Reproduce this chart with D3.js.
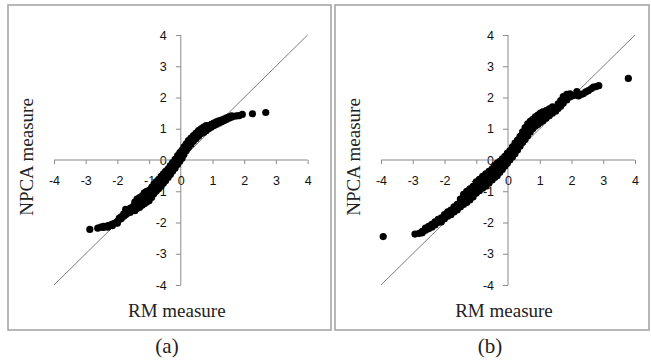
<!DOCTYPE html>
<html>
<head>
<meta charset="utf-8">
<script src="https://cdn.jsdelivr.net/npm/d3@7"></script>
<style>
  body { margin: 0; background: #fff; }
  svg { display: block; }
</style>
</head>
<body>
<div id="chart"></div>
<script>
// ticks shared by both panels
const tickValues = [-4, -3, -2, -1, 0, 1, 2, 3, 4];
const diagonal = [[-4, -4], [4, 4]];

// panel (a): [RM measure, NPCA measure]
const pointsA = [
  [-2.87, -2.22], [-2.62, -2.18], [-2.52, -2.15], [-2.44, -2.16], [-2.44, -2.12],
  [-2.36, -2.13], [-2.3, -2.1], [-2.3, -2.15], [-2.22, -2.08], [-2.16, -2.05],
  [-2.16, -2.1], [-2.08, -2.02], [-2.0, -1.96], [-2.0, -2.02], [-1.94, -1.86],
  [-1.94, -1.9], [-1.88, -1.88], [-1.88, -1.82], [-1.8, -1.8], [-1.8, -1.72],
  [-1.74, -1.58], [-1.74, -1.75], [-1.68, -1.7], [-1.68, -1.64], [-1.6, -1.68],
  [-1.6, -1.55], [-1.52, -1.6], [-1.52, -1.5], [-1.45, -1.62], [-1.45, -1.45],
  [-1.45, -1.35], [-1.38, -1.55], [-1.38, -1.4], [-1.38, -1.25], [-1.3, -1.52],
  [-1.3, -1.35], [-1.3, -1.2], [-1.22, -1.45], [-1.22, -1.3], [-1.22, -1.15],
  [-1.15, -1.4], [-1.15, -1.22], [-1.15, -1.05], [-1.08, -1.35], [-1.08, -1.17],
  [-1.08, -1.0], [-1.0, -1.3], [-1.0, -1.13], [-1.0, -0.97], [-0.92, -1.2],
  [-0.92, -1.04], [-0.92, -0.88], [-0.85, -1.08], [-0.85, -0.92], [-0.85, -0.78],
  [-0.78, -1.0], [-0.78, -0.84], [-0.78, -0.7], [-0.7, -0.92], [-0.7, -0.76],
  [-0.7, -0.62], [-0.62, -0.84], [-0.62, -0.68], [-0.62, -0.52], [-0.55, -0.74],
  [-0.55, -0.58], [-0.55, -0.44], [-0.48, -0.66], [-0.48, -0.5], [-0.48, -0.36],
  [-0.4, -0.56], [-0.4, -0.42], [-0.4, -0.28], [-0.33, -0.46], [-0.33, -0.32],
  [-0.33, -0.18], [-0.26, -0.36], [-0.26, -0.22], [-0.26, -0.08], [-0.18, -0.26],
  [-0.18, -0.12], [-0.18, 0.02], [-0.1, -0.14], [-0.1, 0.0], [-0.1, 0.14],
  [-0.03, -0.04], [-0.03, 0.1], [-0.03, 0.24], [0.04, 0.06], [0.04, 0.2],
  [0.04, 0.32], [0.1, 0.18], [0.1, 0.3], [0.1, 0.42], [0.17, 0.3],
  [0.17, 0.42], [0.17, 0.52], [0.24, 0.4], [0.24, 0.52], [0.24, 0.62],
  [0.32, 0.5], [0.32, 0.6], [0.32, 0.7], [0.4, 0.6], [0.4, 0.7],
  [0.4, 0.78], [0.48, 0.68], [0.48, 0.78], [0.48, 0.86], [0.56, 0.76],
  [0.56, 0.86], [0.56, 0.94], [0.64, 0.84], [0.64, 0.92], [0.64, 1.0],
  [0.72, 0.88], [0.72, 0.98], [0.72, 1.05], [0.8, 0.94], [0.8, 1.04],
  [0.8, 1.1], [0.88, 1.0], [0.88, 1.1], [0.96, 1.05], [0.96, 1.14],
  [1.04, 1.1], [1.04, 1.18], [1.12, 1.14], [1.12, 1.22], [1.2, 1.18],
  [1.2, 1.25], [1.28, 1.22], [1.28, 1.28], [1.36, 1.26], [1.36, 1.31],
  [1.44, 1.3], [1.44, 1.35], [1.52, 1.34], [1.52, 1.38], [1.6, 1.37],
  [1.6, 1.41], [1.68, 1.4], [1.76, 1.41], [1.84, 1.42], [1.94, 1.46],
  [2.26, 1.48], [2.68, 1.52]
];

// panel (b)
const pointsB = [
  [-3.93, -2.45], [-2.93, -2.37], [-2.8, -2.35], [-2.7, -2.33], [-2.7, -2.28],
  [-2.6, -2.25], [-2.6, -2.18], [-2.5, -2.2], [-2.5, -2.12], [-2.4, -2.15],
  [-2.4, -2.06], [-2.3, -2.08], [-2.3, -1.98], [-2.2, -2.0], [-2.2, -1.9],
  [-2.1, -1.98], [-2.1, -1.85], [-2.0, -1.88], [-2.0, -1.75], [-1.9, -1.8],
  [-1.9, -1.66], [-1.8, -1.75], [-1.8, -1.6], [-1.7, -1.66], [-1.7, -1.5],
  [-1.6, -1.6], [-1.6, -1.42], [-1.5, -1.5], [-1.5, -1.35], [-1.5, -1.25],
  [-1.4, -1.42], [-1.4, -1.25], [-1.4, -1.1], [-1.3, -1.36], [-1.3, -1.18],
  [-1.3, -1.0], [-1.2, -1.28], [-1.2, -1.1], [-1.2, -0.92], [-1.1, -1.18],
  [-1.1, -1.0], [-1.1, -0.84], [-1.0, -1.06], [-1.0, -0.88], [-1.0, -0.7],
  [-0.9, -0.98], [-0.9, -0.8], [-0.9, -0.62], [-0.8, -0.9], [-0.8, -0.72],
  [-0.8, -0.52], [-0.7, -0.84], [-0.7, -0.64], [-0.7, -0.44], [-0.6, -0.74],
  [-0.6, -0.54], [-0.6, -0.36], [-0.5, -0.64], [-0.5, -0.44], [-0.5, -0.28],
  [-0.42, -0.56], [-0.42, -0.36], [-0.42, -0.18], [-0.34, -0.5], [-0.34, -0.3],
  [-0.34, -0.1], [-0.26, -0.4], [-0.26, -0.2], [-0.26, -0.04], [-0.18, -0.3],
  [-0.18, -0.12], [-0.18, 0.04], [-0.1, -0.2], [-0.1, -0.02], [-0.1, 0.12],
  [-0.02, -0.1], [-0.02, 0.08], [-0.02, 0.22], [0.06, 0.0], [0.06, 0.16],
  [0.06, 0.3], [0.14, 0.1], [0.14, 0.26], [0.14, 0.42], [0.22, 0.2],
  [0.22, 0.38], [0.22, 0.54], [0.3, 0.32], [0.3, 0.5], [0.3, 0.64],
  [0.38, 0.44], [0.38, 0.62], [0.38, 0.76], [0.46, 0.56], [0.46, 0.74],
  [0.46, 0.9], [0.54, 0.66], [0.54, 0.86], [0.54, 1.04], [0.62, 0.78],
  [0.62, 0.98], [0.62, 1.16], [0.7, 0.9], [0.7, 1.08], [0.7, 1.24],
  [0.78, 1.0], [0.78, 1.16], [0.78, 1.3], [0.86, 1.08], [0.86, 1.24],
  [0.86, 1.38], [0.94, 1.14], [0.94, 1.3], [0.94, 1.44], [1.02, 1.2],
  [1.02, 1.36], [1.02, 1.5], [1.1, 1.26], [1.1, 1.42], [1.1, 1.54],
  [1.2, 1.34], [1.2, 1.48], [1.2, 1.58], [1.3, 1.42], [1.3, 1.55],
  [1.3, 1.64], [1.4, 1.5], [1.4, 1.62], [1.4, 1.7], [1.5, 1.56],
  [1.5, 1.68], [1.58, 1.65], [1.58, 1.8], [1.66, 1.72], [1.66, 1.9],
  [1.74, 1.82], [1.74, 2.03], [1.85, 1.92], [1.85, 2.1], [1.95, 2.02],
  [1.95, 2.12], [2.05, 2.06], [2.17, 2.19], [2.22, 2.05], [2.3, 2.1],
  [2.37, 2.12], [2.45, 2.18], [2.53, 2.22], [2.62, 2.28], [2.69, 2.33],
  [2.78, 2.35], [2.86, 2.38], [3.79, 2.61]
];

const width = 651;
const height = 360;

const svg = d3.select('#chart')
  .append('svg')
  .attr('width', width)
  .attr('height', height);

svg.append('rect').attr('width', width).attr('height', height).attr('fill', '#fff');

const panels = [
  { data: pointsA, caption: '(a)', frame: [8, 5, 331, 330], xRange: [54, 307.6], capX: 167 },
  { data: pointsB, caption: '(b)', frame: [335, 5, 649, 330], xRange: [381, 635], capX: 490 }
];

function drawPanel(p) {
  const [fx0, fy0, fx1, fy1] = p.frame;
  const g = svg.append('g');

  g.append('rect')
    .attr('x', fx0).attr('y', fy0)
    .attr('width', fx1 - fx0).attr('height', fy1 - fy0)
    .attr('fill', 'none')
    .attr('stroke', '#a6a6a6')
    .attr('stroke-width', 1.6);

  const x = d3.scaleLinear().domain([-4, 4]).range(p.xRange);
  const y = d3.scaleLinear().domain([-4, 4]).range([285, 35]);

  // y axis through x = 0
  const yAxis = d3.axisLeft(y).tickValues(tickValues).tickSize(5).tickPadding(9)
    .tickFormat(d3.format('d'));
  const ya = g.append('g').attr('transform', `translate(${x(0)},0)`).call(yAxis);

  // x axis through y = 0
  const xAxis = d3.axisBottom(x).tickValues(tickValues).tickSize(4).tickPadding(12)
    .tickFormat(d3.format('d'));
  const xa = g.append('g').attr('transform', `translate(0,${y(0)})`).call(xAxis);

  [ya, xa].forEach(a => {
    a.select('.domain').attr('stroke', '#8a8a8a').attr('stroke-width', 1);
    a.selectAll('.tick line').attr('stroke', '#8a8a8a');
    a.selectAll('.tick text')
      .attr('fill', '#111')
      .style('font-family', '"Liberation Sans", Arial, sans-serif')
      .style('font-size', '12.5px')
      .text(d => d < 0 ? '-' + Math.abs(d) : d);
  });
  ya.select('.domain').attr('d', `M0,${y(-4)}V${y(4)}`);
  xa.select('.domain').attr('d', `M${x(-4)},0H${x(4)}`);

  // y = x reference line
  g.append('path')
    .datum(diagonal)
    .attr('d', d3.line().x(d => x(d[0])).y(d => y(d[1])))
    .attr('stroke', '#6e6e6e')
    .attr('stroke-width', 0.9)
    .attr('fill', 'none');

  g.append('g')
    .selectAll('circle')
    .data(p.data)
    .enter()
    .append('circle')
    .attr('cx', d => x(d[0]))
    .attr('cy', d => y(d[1]))
    .attr('r', 3.6)
    .attr('fill', '#000');

  const serif = '"Liberation Serif", "Times New Roman", serif';

  g.append('text')
    .attr('transform', `translate(${fx0 + 18},157) rotate(-90)`)
    .attr('text-anchor', 'middle')
    .attr('dy', '0.35em')
    .style('font-family', serif)
    .style('font-size', '19px')
    .attr('fill', '#222')
    .text('NPCA measure');

  g.append('text')
    .attr('x', x(0) - 4)
    .attr('y', 317)
    .attr('text-anchor', 'middle')
    .style('font-family', serif)
    .style('font-size', '19px')
    .attr('fill', '#222')
    .text('RM  measure');

  svg.append('text')
    .attr('x', p.capX)
    .attr('y', 353)
    .attr('text-anchor', 'middle')
    .style('font-family', serif)
    .style('font-size', '21px')
    .attr('fill', '#222')
    .text(p.caption);
}

panels.forEach(drawPanel);
</script>
</body>
</html>
